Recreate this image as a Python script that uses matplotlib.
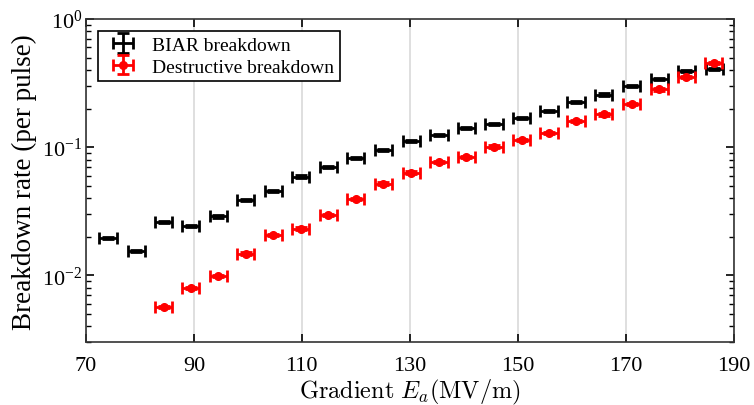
import matplotlib
matplotlib.use("Agg")
import matplotlib.pyplot as plt
from matplotlib.ticker import LogLocator, NullFormatter

plt.rcParams["font.family"] = ["Liberation Serif", "DejaVu Serif"]
plt.rcParams["mathtext.fontset"] = "cm"

# Gradient (MV/m)
grad_biar = [74.1, 79.3, 84.4, 89.4, 94.5, 99.6, 104.7, 109.8, 114.9, 120.0, 125.1,
             130.3, 135.4, 140.5, 145.6, 150.7, 155.8, 160.8, 165.9, 171.1, 176.2,
             181.2, 186.4]
rate_biar = [0.0197, 0.0155, 0.0261, 0.0243, 0.0288, 0.0387, 0.0453, 0.059, 0.070,
             0.0825, 0.095, 0.111, 0.125, 0.141, 0.152, 0.169, 0.192, 0.225, 0.257,
             0.300, 0.340, 0.393, 0.409]

grad_destr = [84.4, 89.4, 94.5, 99.6, 104.7, 109.8, 114.9, 120.0, 125.1, 130.3,
              135.4, 140.5, 145.6, 150.7, 155.8, 160.8, 165.9, 171.1, 176.2, 181.2,
              186.3]
rate_destr = [0.00569, 0.0080, 0.0099, 0.0148, 0.0207, 0.0232, 0.0296, 0.0394, 0.052,
              0.0634, 0.0763, 0.0835, 0.101, 0.113, 0.129, 0.161, 0.180, 0.217, 0.282,
              0.352, 0.456]

grad_err = 1.6  # MV/m

fig, ax = plt.subplots(figsize=(7.54, 4.06), dpi=100)

ax.errorbar(grad_biar, rate_biar, xerr=grad_err, yerr=[r * 0.02 for r in rate_biar],
            fmt="none", ecolor="black", elinewidth=2, capsize=4, capthick=2,
            label="BIAR breakdown")
ax.errorbar(grad_destr, rate_destr, xerr=grad_err, yerr=[r * 0.02 for r in rate_destr],
            fmt="o", color="red", ms=5.5, ecolor="red", elinewidth=2, capsize=4,
            capthick=2, label="Destructive breakdown")

ax.set_yscale("log")
ax.set_xlim(70, 190)
ax.set_ylim(0.003, 1)
ax.set_xticks(range(70, 191, 20))
ax.yaxis.set_minor_locator(LogLocator(base=10, subs=range(2, 10)))
ax.yaxis.set_minor_formatter(NullFormatter())

ax.grid(True, axis="x", color="#d9d9d9", linewidth=1.2)
ax.grid(False, axis="y", which="both")
ax.set_axisbelow(True)

ax.tick_params(which="both", direction="in", top=True, right=True, labelsize=16)
ax.tick_params(which="major", length=6, width=1.2)
ax.tick_params(which="minor", length=3.5, width=1)
ax.tick_params(axis="x", which="minor", top=False, bottom=False)
ax.tick_params(axis="x", pad=10)
ax.tick_params(axis="y", pad=2.5)
for s in ax.spines.values():
    s.set_linewidth(1.2)
    s.set_color("#333333")

ax.set_xlabel(r"$\mathrm{Gradient}\ E_a\mathrm{(MV/m)}$", fontsize=17.5, labelpad=1)
ax.set_ylabel("Breakdown rate (per pulse)", fontsize=19.5, labelpad=4)

leg = ax.legend(loc="upper left", fontsize=14, fancybox=False, framealpha=1,
                edgecolor="black", borderpad=0.3, handletextpad=0.5,
                borderaxespad=0.6, labelspacing=0.2)
leg.get_frame().set_linewidth(1.2)

fig.subplots_adjust(left=0.114, right=0.973, top=0.951, bottom=0.154)
fig.savefig("out.png", dpi=100)
